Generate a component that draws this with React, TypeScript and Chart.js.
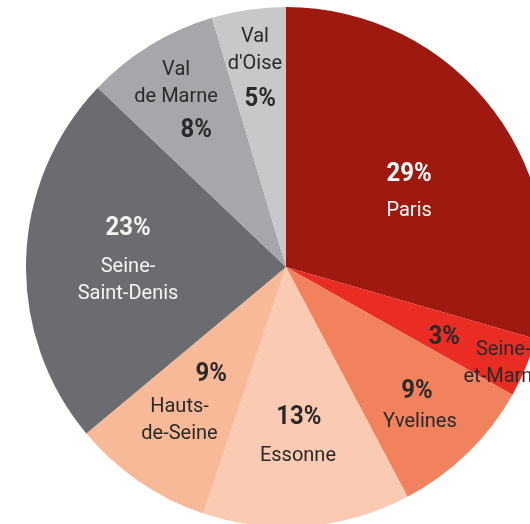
import React, { useEffect, useRef } from "react";
import { Chart, registerables } from "chart.js";

Chart.register(...registerables);

// ---- data ----
const departments = [
  "Paris",
  "Seine-et-Marne",
  "Yvelines",
  "Essonne",
  "Hauts-de-Seine",
  "Seine-Saint-Denis",
  "Val de Marne",
  "Val d'Oise",
];
const shares = [29.5, 3.7, 9.1, 12.9, 8.8, 23.2, 8.3, 4.6];
const percentLabels = ["29%", "3%", "9%", "13%", "9%", "23%", "8%", "5%"];
const nameLines = [
  ["Paris"],
  ["Seine-", "et-Marne"],
  ["Yvelines"],
  ["Essonne"],
  ["Hauts-", "de-Seine"],
  ["Seine-", "Saint-Denis"],
  ["Val", "de Marne"],
  ["Val", "d'Oise"],
];

// ---- styles ----
const sliceColors = [
  "#9E1A10",
  "#EA2D24",
  "#F2825D",
  "#FACAB3",
  "#F8B999",
  "#6B6C70",
  "#A6A7AA",
  "#C7C8CA",
];
const textColors = ["#FFFFFF", "#2A2A2A", "#2A2A2A", "#2A2A2A", "#2A2A2A", "#F4F4F4", "#2A2A2A", "#2A2A2A"];
// label placement: radius fraction and angle shift (deg) relative to slice mid-angle
const pctR = [0.6, 0.662, 0.686, 0.571, 0.496, 0.628, 0.637, 0.665];
const pctDa = [-1.0, 0.5, -3.0, -0.3, 1.15, 12.8, -1.4, -0.3];
const nameR = [0.525, 0.91, 0.779, 0.717, 0.709, 0.609, 0.831, 0.851];
const nameDa = [11.4, 0.6, 2.85, 1.0, 0.95, -5.7, 0.9, 0.2];
const LINE_H = 27;
const TEXT_DY = 3;

const labelPlugin = {
  id: "sliceLabels",
  afterDatasetsDraw(chart: any) {
    const ctx = chart.ctx;
    const meta = chart.getDatasetMeta(0);
    meta.data.forEach((arc: any, i: number) => {
      const { x, y, startAngle, endAngle, outerRadius } = arc.getProps(
        ["x", "y", "startAngle", "endAngle", "outerRadius"],
        true
      );
      const mid = (startAngle + endAngle) / 2;
      const pos = (r: number, da: number) => {
        const a = mid + (da * Math.PI) / 180;
        return [x + Math.cos(a) * r * outerRadius, y + Math.sin(a) * r * outerRadius + TEXT_DY];
      };
      ctx.save();
      ctx.textAlign = "center";
      ctx.textBaseline = "middle";
      ctx.fillStyle = textColors[i];
      const [px, py] = pos(pctR[i], pctDa[i]);
      ctx.save();
      ctx.translate(px, py);
      ctx.scale(0.92, 1);
      ctx.font = "bold 26px Roboto, 'DejaVu Sans', sans-serif";
      ctx.fillText(percentLabels[i], 0, 0);
      ctx.restore();
      const [nx, ny] = pos(nameR[i], nameDa[i]);
      ctx.font = "20px Roboto, 'DejaVu Sans', sans-serif";
      const lines = nameLines[i];
      lines.forEach((ln, k) => {
        ctx.fillText(ln, nx, ny + (k - (lines.length - 1) / 2) * LINE_H);
      });
      ctx.restore();
    });
  },
};

export default function App() {
  const ref = useRef<HTMLCanvasElement | null>(null);
  useEffect(() => {
    if (!ref.current) return;
    const chart = new Chart(ref.current, {
      type: "pie",
      data: {
        labels: departments,
        datasets: [
          {
            data: shares,
            backgroundColor: sliceColors,
            borderWidth: 0,
          },
        ],
      },
      options: {
        responsive: false,
        maintainAspectRatio: false,
        animation: false,
        layout: { padding: 0 },
        plugins: {
          legend: { display: false },
          tooltip: { enabled: false },
        },
      },
      plugins: [labelPlugin],
    });
    return () => chart.destroy();
  }, []);

  return (
    <div
      style={{
        position: "fixed",
        left: 0,
        top: 0,
        width: 530,
        height: 524,
        overflow: "hidden",
        background: "#FFFFFF",
      }}
    >
      <canvas
        ref={ref}
        width={520}
        height={520}
        style={{ position: "absolute", left: 26, top: 7, width: 520, height: 520 }}
      />
    </div>
  );
}
